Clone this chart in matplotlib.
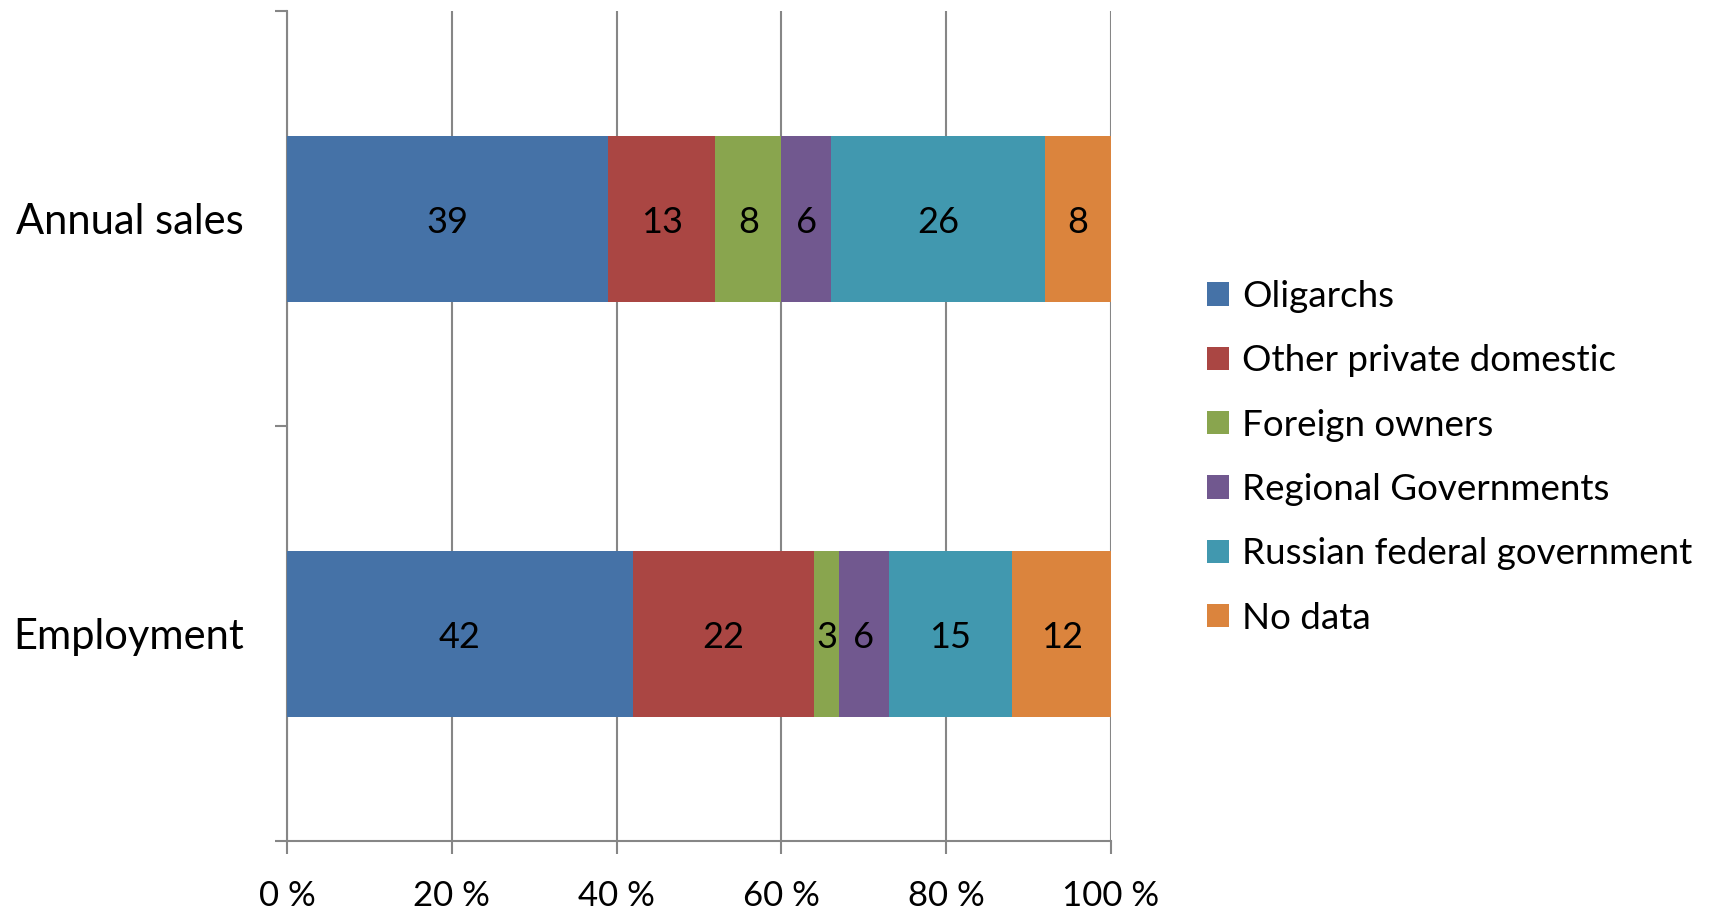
import matplotlib
matplotlib.use("Agg")
import matplotlib.pyplot as plt
from matplotlib.patches import Patch

plt.rcParams['font.family'] = ['Lato', 'DejaVu Sans']

# data
categories = ["Employment", "Annual sales"]
owners = ["Oligarchs", "Other private domestic", "Foreign owners",
          "Regional Governments", "Russian federal government", "No data"]
employment = [42, 22, 3, 6, 15, 12]
annual_sales = [39, 13, 8, 6, 26, 8]
colors = ["#4572A7", "#AA4643", "#89A54E", "#71588F", "#4198AF", "#DB843D"]
xticks = [0, 20, 40, 60, 80, 100]
xtick_labels = ["0 %", "20 %", "40 %", "60 %", "80 %", "100 %"]

fig = plt.figure(figsize=(17.13, 9.09), dpi=100)
ax = fig.add_axes([0.1675, 0.0748, 0.4811, 0.9131])

grey = "#868686"
values = [employment, annual_sales]
for i, row in enumerate(values):
    left = 0
    for j, v in enumerate(row):
        ax.barh(i, v, left=left, height=0.4, color=colors[j], zorder=3)
        ax.text(left + v / 2, i - 0.01, str(v), ha="center", va="center",
                fontsize=26, color="black", zorder=4)
        left += v

ax.set_xlim(0, 100)
ax.set_ylim(-0.5, 1.5)

ax.set_xticks(xticks)
ax.set_xticklabels(xtick_labels, fontsize=25)
ax.tick_params(axis="x", direction="out", length=9, width=1.5, color=grey, pad=19)
ax.grid(axis="x", color=grey, linewidth=1.5, zorder=0)

ax.set_yticks([-0.5, 0.5, 1.5])
ax.set_yticklabels([])
ax.tick_params(axis="y", which="major", direction="out", length=9, width=1.5, color=grey)
ax.set_yticks([0, 1], minor=True)
ax.set_yticklabels(categories, minor=True, fontsize=30)
ax.tick_params(axis="y", which="minor", length=0, pad=31)

for s in ["top", "right"]:
    ax.spines[s].set_visible(False)
for s in ["left", "bottom"]:
    ax.spines[s].set_color(grey)
    ax.spines[s].set_linewidth(1.5)

handles = [Patch(facecolor=c, edgecolor="none") for c in colors]
fig.legend(handles, owners, loc="upper left", bbox_to_anchor=(0.696, 0.708),
           frameon=False, fontsize=26.5, handlelength=0.6, handleheight=0.6,
           handletextpad=0.35, labelspacing=0.85, borderaxespad=0)

fig.savefig("out.png", dpi=100)
